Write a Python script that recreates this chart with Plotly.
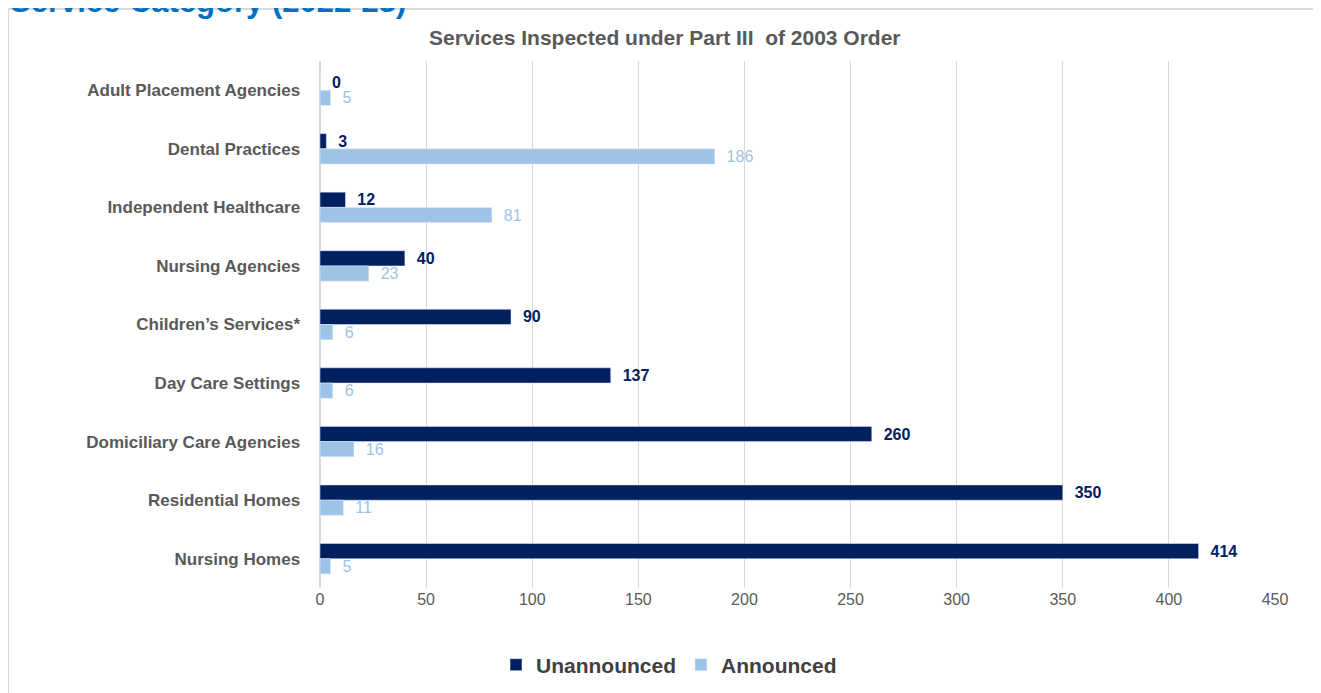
import plotly.graph_objects as go

categories = ["Adult Placement Agencies", "Dental Practices", "Independent Healthcare",
              "Nursing Agencies", "Children’s Services*", "Day Care Settings",
              "Domiciliary Care Agencies", "Residential Homes", "Nursing Homes"]
unannounced = [0, 3, 12, 40, 90, 137, 260, 350, 414]
announced = [5, 186, 81, 23, 6, 6, 16, 11, 5]
x_ticks = [0, 50, 100, 150, 200, 250, 300, 350, 400, 450]

W, H = 1321, 693
OFF = 8  # page body margin
L, T = 320 - OFF, 61 - OFF
R = W - (1275 - OFF)
B = H - (588 - OFF)
pw, ph = W - L - R, H - T - B

def px_x(p):  # page pixel -> paper
    return (p - OFF - L) / pw

def px_y(p):
    return (H - B - (p - OFF)) / ph

fig = go.Figure()
fig.add_trace(go.Bar(
    y=categories, x=unannounced, orientation="h", name="Unannounced",
    marker_color="#002060", text=unannounced, texttemplate="  %{x}",
    textposition="outside", cliponaxis=False, constraintext="none",
    textfont=dict(family="Liberation Sans", size=16, color="#002060", weight="bold"),
))
fig.add_trace(go.Bar(
    y=categories, x=announced, orientation="h", name="Announced",
    marker_color="#9DC3E6", text=announced, texttemplate="  %{x}",
    textposition="outside", cliponaxis=False, constraintext="none",
    textfont=dict(family="Liberation Sans", size=16, color="#9DC3E6"),
))

fig.update_layout(
    width=W, height=H,
    margin=dict(l=L, r=R, t=T, b=B),
    barmode="group", bargap=0.48, bargroupgap=0,
    paper_bgcolor="white", plot_bgcolor="white",
    font=dict(family="Liberation Sans", color="#595959"),
    showlegend=True,
    legend=dict(orientation="h", x=px_x(669), xanchor="center",
                y=px_y(665), yanchor="middle",
                font=dict(size=21, color="#404040", family="Liberation Sans", weight="bold"),
                itemwidth=30),
    xaxis=dict(range=[0, 450], tickvals=x_ticks, showgrid=True, gridcolor="#d9d9d9",
               gridwidth=1, zeroline=True, zerolinecolor="#d9d9d9", showline=False,
               tickfont=dict(size=16, color="#595959"), ticks=""),
    yaxis=dict(autorange="reversed", showgrid=False, ticks="", ticksuffix="    ",
               tickfont=dict(size=17, color="#595959", weight="bold")),
)

fig.add_annotation(text="<b>Services Inspected under Part III  of 2003 Order</b>",
                   xref="paper", yref="paper", x=px_x(665), y=px_y(38),
                   xanchor="center", yanchor="middle", showarrow=False,
                   font=dict(size=21, color="#595959", family="Liberation Sans"))

fig.add_annotation(text="<b>Service Category (2022-23)</b>",
                   xref="paper", yref="paper", x=px_x(8), y=px_y(1),
                   xanchor="left", yanchor="middle", showarrow=False,
                   font=dict(size=31, color="#0070C0", family="Liberation Sans"))

fig.add_shape(type="rect", xref="paper", yref="paper",
              x0=px_x(8), x1=px_x(1318), y0=px_y(720), y1=px_y(9),
              line=dict(color="#d0d0d0", width=1.5), fillcolor="rgba(0,0,0,0)", layer="below")

fig.write_html("out.html")
